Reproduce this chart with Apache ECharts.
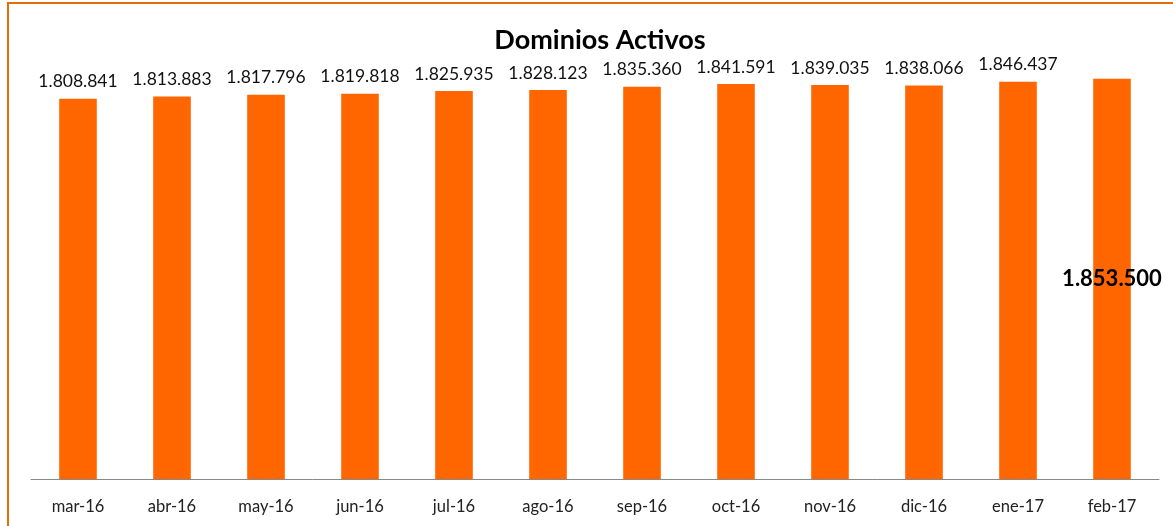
<!DOCTYPE html>
<html>
<head>
<meta charset="utf-8">
<script src="https://cdn.jsdelivr.net/npm/echarts@6/dist/echarts.min.js"></script>
<style>
html,body{margin:0;padding:0;background:#fff;}
#chart{width:1173px;height:526px;}
</style>
</head>
<body>
<div id="chart"></div>
<script>
const categories = ['mar-16','abr-16','may-16','jun-16','jul-16','ago-16','sep-16','oct-16','nov-16','dic-16','ene-17','feb-17'];
const values = [1808841,1813883,1817796,1819818,1825935,1828123,1835360,1841591,1839035,1838066,1846437,1853500];
const title = 'Dominios Activos';

function fmt(v){
  return String(v).replace(/\B(?=(\d{3})+(?!\d))/g,'.');
}

const lastIdx = values.length - 1;
const data = values.map((v,i)=>{
  if(i===lastIdx){
    return {value:v,label:{show:true,position:'inside',fontSize:22,fontWeight:'bold',color:'#000',fontFamily:'Lato'}};
  }
  return v;
});

const chart = echarts.init(document.getElementById('chart'));
chart.setOption({
  animation:false,
  backgroundColor:'#fff',
  title:{
    text:title,
    left:595,
    top:22,
    textAlign:'center',
    textStyle:{fontFamily:'Lato',fontWeight:'bold',fontSize:27,color:'#000'}
  },
  grid:{left:31,right:14,top:13,bottom:47,containLabel:false},
  xAxis:{
    type:'category',
    data:categories,
    axisLine:{lineStyle:{color:'#888',width:1}},
    axisTick:{show:false},
    axisLabel:{fontFamily:'Lato',fontSize:16.5,color:'#222',margin:19}
  },
  yAxis:{
    type:'value',
    min:960000,
    max:2000000,
    show:false,
    splitLine:{show:false}
  },
  series:[{
    type:'bar',
    data:data,
    barWidth:'40%',
    itemStyle:{color:'#FF6600'},
    label:{
      show:true,
      position:'top',
      distance:8,
      fontFamily:'Lato',
      fontSize:17.5,
      color:'#111',
      formatter:p=>fmt(p.value)
    }
  }],
  graphic:[{
    type:'rect',
    shape:{x:8,y:3,width:1300,height:700},
    style:{fill:'none',stroke:'#E46C0A',lineWidth:2},
    silent:true
  }]
});
</script>
</body>
</html>
